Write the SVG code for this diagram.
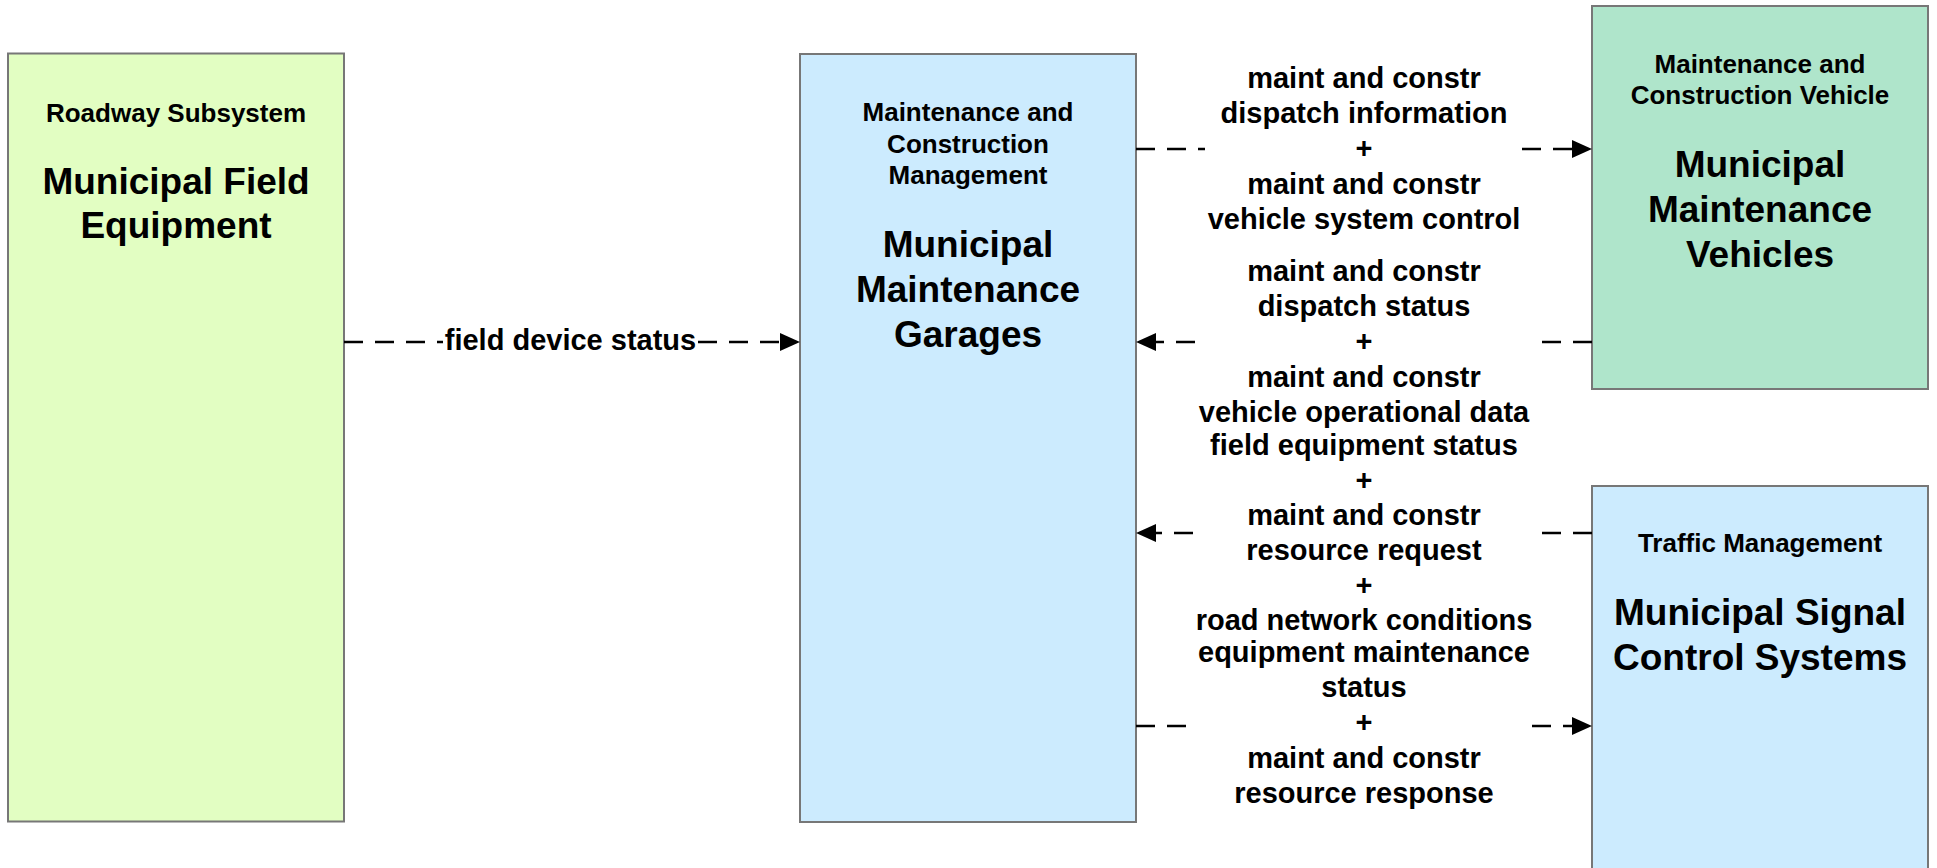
<svg xmlns="http://www.w3.org/2000/svg" width="1937" height="868" viewBox="0 0 1937 868">
<style>
.box{stroke:#777;stroke-width:2}
.t{font-family:"Liberation Sans",Arial,sans-serif;font-weight:bold;fill:#000;text-anchor:middle}
.s{font-size:26px}
.b{font-size:37px}
.l{font-size:29px}
.c{fill:none;stroke:#000;stroke-width:2.5;stroke-dasharray:19 12}
.ah{fill:#000}
</style>
<rect width="1937" height="868" fill="#fff"/>
<g id="node-field-equipment">
<rect class="box" x="8" y="53.5" width="336" height="768" fill="#E2FEC2"/>
<text class="t s" x="176" y="122">Roadway Subsystem</text>
<text class="t b" x="176" y="193.5">Municipal Field</text>
<text class="t b" x="176" y="237.5">Equipment</text>
</g>
<g id="node-garages">
<rect class="box" x="800" y="54" width="336" height="768" fill="#CCEBFE"/>
<text class="t s" x="968" y="121">Maintenance and</text>
<text class="t s" x="968" y="152.5">Construction</text>
<text class="t s" x="968" y="184">Management</text>
<text class="t b" x="968" y="257">Municipal</text>
<text class="t b" x="968" y="302">Maintenance</text>
<text class="t b" x="968" y="347">Garages</text>
</g>
<g id="node-vehicles">
<rect class="box" x="1592" y="6" width="336" height="383" fill="#AFE5CB"/>
<text class="t s" x="1760" y="72.5">Maintenance and</text>
<text class="t s" x="1760" y="104">Construction Vehicle</text>
<text class="t b" x="1760" y="177">Municipal</text>
<text class="t b" x="1760" y="222">Maintenance</text>
<text class="t b" x="1760" y="267">Vehicles</text>
</g>
<g id="node-signal">
<rect class="box" x="1592" y="486" width="336" height="400" fill="#CCEBFE"/>
<text class="t s" x="1760" y="552">Traffic Management</text>
<text class="t b" x="1760" y="625">Municipal Signal</text>
<text class="t b" x="1760" y="670">Control Systems</text>
</g>
<g id="connectors">
<path class="c" d="M344,342 H443 M698,342 H782"/>
<polygon class="ah" points="800,342 780,333 780,351"/>
<path class="c" d="M1136,149 H1205 M1522,149 H1577"/>
<polygon class="ah" points="1592,149 1572,140 1572,158"/>
<path class="c" d="M1592,342 H1542 M1195,342 H1151"/>
<polygon class="ah" points="1136,342 1156,333 1156,351"/>
<path class="c" d="M1592,533 H1541 M1193,533 H1151"/>
<polygon class="ah" points="1136,533 1156,524 1156,542"/>
<path class="c" d="M1136,726 H1187 M1532,726 H1577"/>
<polygon class="ah" points="1592,726 1572,717 1572,735"/>
</g>
<g id="labels">
<text class="t l" x="570.5" y="350">field device status</text>
<g class="t l">
<text x="1364" y="88">maint and constr</text>
<text x="1364" y="123">dispatch information</text>
<text x="1364" y="158">+</text>
<text x="1364" y="193.5">maint and constr</text>
<text x="1364" y="228.5">vehicle system control</text>
</g>
<g class="t l">
<text x="1364" y="281">maint and constr</text>
<text x="1364" y="316">dispatch status</text>
<text x="1364" y="351">+</text>
<text x="1364" y="386.5">maint and constr</text>
<text x="1364" y="421.5">vehicle operational data</text>
</g>
<g class="t l">
<text x="1364" y="454.5">field equipment status</text>
<text x="1364" y="489.5">+</text>
<text x="1364" y="524.5">maint and constr</text>
<text x="1364" y="559.5">resource request</text>
<text x="1364" y="594.5">+</text>
<text x="1364" y="629.5">road network conditions</text>
</g>
<g class="t l">
<text x="1364" y="662">equipment maintenance</text>
<text x="1364" y="697">status</text>
<text x="1364" y="732">+</text>
<text x="1364" y="768">maint and constr</text>
<text x="1364" y="802.5">resource response</text>
</g>
</g>
</svg>
